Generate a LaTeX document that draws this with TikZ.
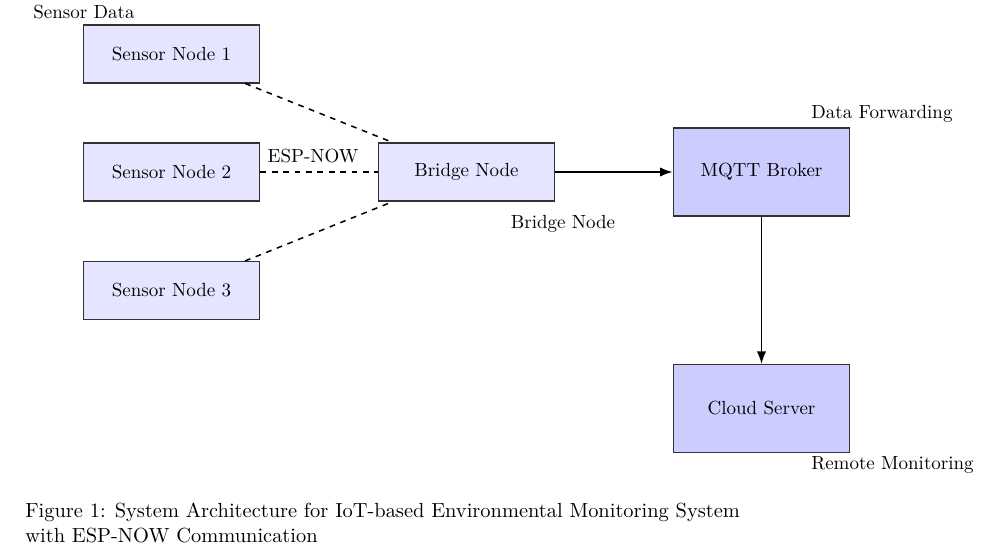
\documentclass[tikz,border=0pt]{standalone}
\usetikzlibrary{arrows.meta}
\tikzset{
	sensorbox/.style={draw=black!80,fill=blue!10,line width=0.6pt,minimum width=93pt,minimum height=30.5pt,inner sep=2pt},
	cloudbox/.style={draw=black!80,fill=blue!20,line width=0.6pt,minimum width=93pt,minimum height=46.3pt,inner sep=2pt},
	link/.style={thick,dashed},
	flow/.style={thick,->}
}
\begin{document}
\begin{tikzpicture}[x=0.5262pt,y=-0.5262pt,font=\normalsize,>=Latex]
				\useasboundingbox (0,0) rectangle (989,553);
				\path
				(171.5,54) coordinate (P1)
				(171.5,172) coordinate (P2)
				(171.5,290.5) coordinate (P3)
				(466.5,172) coordinate (PB)
				(761.5,172) coordinate (PM)
				(761.5,408.5) coordinate (PC)
				;
				\foreach \x/\t in {1/Sensor Node 1,2/Sensor Node 2,3/Sensor Node 3}\node[sensorbox] (s\x) at (P\x) {\t};
				\node[sensorbox] (bridge) at (PB) {Bridge Node};
				\node[cloudbox] (mqtt) at (PM) {MQTT Broker};
				\node[cloudbox] (cloud) at (PC) {Cloud Server};
				\foreach \x in {1,2,3}\draw[link] (s\x)--(bridge);
				\draw[flow] (bridge)--(mqtt);
				\draw[flow] (mqtt)--(cloud);
				% labels
				\node[anchor=base] (lsensor) at (84,18.5) {Sensor Data};
				\node[anchor=base] (lesp) at (313,163) {ESP-NOW};
				\node[anchor=base] (lbridge) at (563,228) {Bridge Node};
				\node[anchor=base] (lfwd) at (882,119) {Data Forwarding};
				\node[anchor=base] (lremote) at (892.5,469) {Remote Monitoring};
				\node[anchor=north west,align=left,inner sep=0pt,font=\fontsize{10.75pt}{13.2pt}\selectfont] (caption) at (25,502)
				{Figure 1: System Architecture for IoT-based Environmental Monitoring System\\with ESP-NOW Communication};
			\end{tikzpicture}
\end{document}
